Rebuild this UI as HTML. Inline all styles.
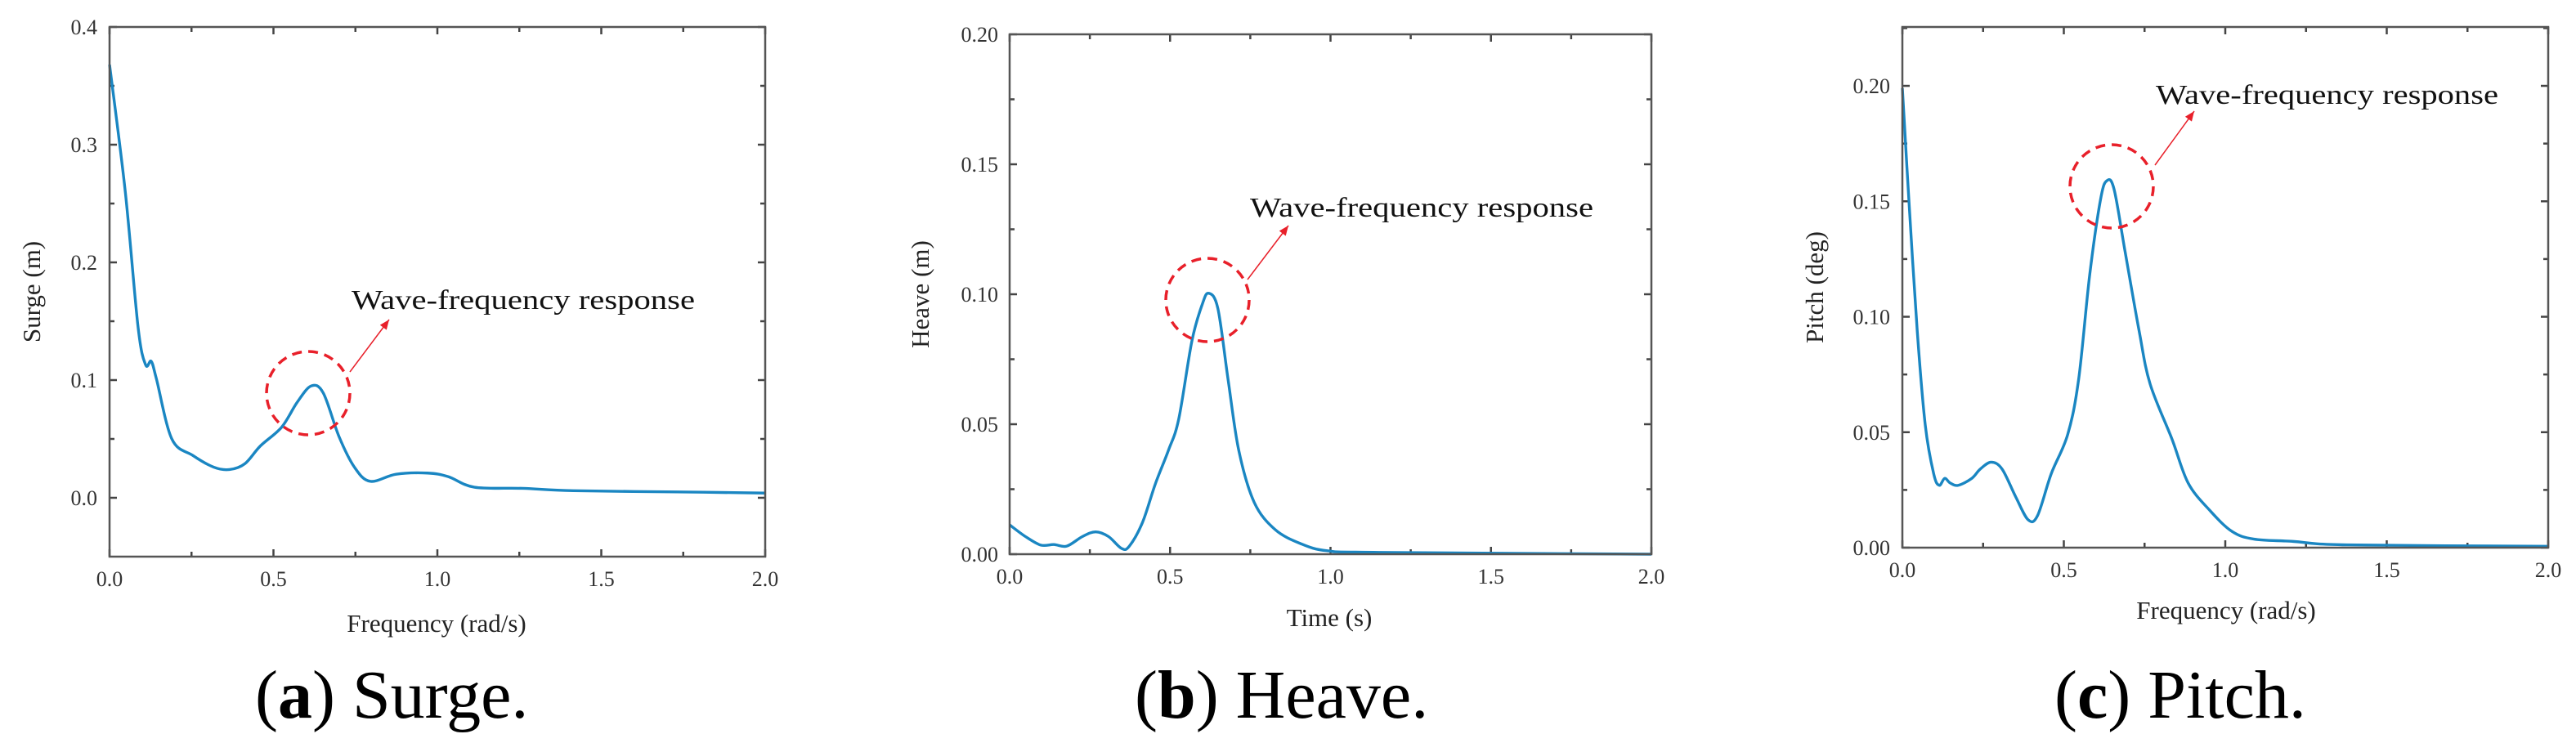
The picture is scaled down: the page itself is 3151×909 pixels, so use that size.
<!DOCTYPE html>
<html><head><meta charset="utf-8"><style>
html,body{margin:0;padding:0;background:#fff;}
svg{display:block;font-family:"Liberation Serif",serif;}
</style></head><body>
<svg id="fig" width="3151" height="909" viewBox="0 0 3151 909"></svg>
<script>
// ---- Data (a) Surge ----
const surgeFreq = [0,0.048,0.087,0.11,0.127,0.143,0.19,0.254,0.318,0.366,0.413,0.46,0.525,0.572,0.615,0.652,0.70,0.747,0.795,0.874,0.97,1.033,1.113,1.26,1.415,1.73,2.0];
const surgeVals = [0.368,0.26,0.145,0.113,0.116,0.101,0.050,0.036,0.026,0.024,0.029,0.044,0.060,0.081,0.095,0.089,0.052,0.026,0.014,0.020,0.021,0.018,0.009,0.008,0.006,0.005,0.004];
const surgeYTicks = ["0.0","0.1","0.2","0.3","0.4"];
// ---- Data (b) Heave ----
const heaveTime = [0,0.049,0.097,0.138,0.178,0.227,0.268,0.308,0.349,0.373,0.414,0.454,0.495,0.527,0.568,0.60,0.62,0.649,0.681,0.714,0.762,0.827,0.908,0.99,1.15,2.0];
const heaveVals = [0.0113,0.0068,0.0035,0.0037,0.0031,0.0068,0.0086,0.0068,0.0022,0.0031,0.0122,0.027,0.040,0.052,0.082,0.096,0.1004,0.0945,0.067,0.040,0.020,0.0095,0.004,0.0013,0.0007,0.0];
const heaveYTicks = ["0.00","0.05","0.10","0.15","0.20"];
// ---- Data (c) Pitch ----
const pitchFreq = [0,0.02,0.046,0.071,0.097,0.114,0.131,0.148,0.173,0.215,0.241,0.275,0.309,0.351,0.39,0.419,0.461,0.512,0.546,0.58,0.614,0.634,0.656,0.69,0.733,0.767,0.835,0.885,0.953,1.021,1.089,1.21,1.377,2.0];
const pitchVals = [0.199,0.151,0.094,0.053,0.032,0.027,0.030,0.028,0.027,0.030,0.034,0.037,0.034,0.022,0.012,0.014,0.032,0.049,0.073,0.118,0.151,0.159,0.155,0.128,0.094,0.071,0.047,0.028,0.016,0.007,0.0037,0.0027,0.0012,0.0006];
const pitchYTicks = ["0.00","0.05","0.10","0.15","0.20"];
const xTickLabels = ["0.0","0.5","1.0","1.5","2.0"];

const NS = "http://www.w3.org/2000/svg";
const svg = document.getElementById('fig');
function mk(tag, attrs, parent){
  const e = document.createElementNS(NS, tag);
  for (const k in attrs) e.setAttribute(k, attrs[k]);
  (parent||svg).appendChild(e);
  return e;
}

function drawChart(cfg){
  const g = mk('g', {});
  
  
  const L=cfg.L,R=cfg.R,T=cfg.T,B=cfg.B;
  const sx = v => L + (v - 0) / 2 * (R - L);
  const sy = v => B - (v - cfg.ymin) / (cfg.ymax - cfg.ymin) * (B - T);
  for (let i=0;i<=8;i++){
    const v=i*0.25, x=sx(v), len = i%2===0?9:6;
    const t1 = mk('line',{x1:x,y1:B,x2:x,y2:B-len,stroke:'#444','stroke-width':2.5},g);
    
    
    const t2 = mk('line',{x1:x,y1:T,x2:x,y2:T+len,stroke:'#444','stroke-width':2.5},g);
    
    
  }
  const nMinor = Math.round((cfg.ymax - cfg.ymin)/ (cfg.ystep/2));
  for (let i=0;i<=nMinor+1;i++){
    const v = cfg.ystart + i*cfg.ystep/2;
    if (v>cfg.ymax+1e-9) break;
    const y = sy(v), len = i%2===0?9:6;
    const t1 = mk('line',{x1:L,y1:y,x2:L+len,y2:y,stroke:'#444','stroke-width':2.5},g);
    
    
    const t2 = mk('line',{x1:R,y1:y,x2:R-len,y2:y,stroke:'#444','stroke-width':2.5},g);
    
    
  }
  xTickLabels.forEach((lab,i)=>{
    const t = mk('text',{x:sx(i*0.5),y:cfg.xLabY,'text-anchor':'middle','font-size':26,fill:'#333'},g);
    t.textContent = lab;
    
    
  });
  cfg.yTicks.forEach((lab,i)=>{
    const t = mk('text',{x:cfg.yLabX,y:sy(cfg.ystart+i*cfg.ystep)+9,'text-anchor':'end','font-size':26,fill:'#333'},g);
    t.textContent = lab;
    
    
  });
  const pts = cfg.xs.map((x,i)=>[sx(x), sy(cfg.ys[i])]);
  let d = `M${pts[0][0]},${pts[0][1]}`;
  for (let i=0;i<pts.length-1;i++){
    const p0=pts[Math.max(0,i-1)],p1=pts[i],p2=pts[i+1],p3=pts[Math.min(pts.length-1,i+2)];
    const c1=[p1[0]+(p2[0]-p0[0])/6,p1[1]+(p2[1]-p0[1])/6];
    const c2=[p2[0]-(p3[0]-p1[0])/6,p2[1]-(p3[1]-p1[1])/6];
    d += ` C${c1[0]},${c1[1]} ${c2[0]},${c2[1]} ${p2[0]},${p2[1]}`;
  }
  const line = mk('path',{d:d,fill:'none',stroke:'#1a86c2','stroke-width':3.4,'stroke-linejoin':'round'},g);
  
  
  const fr = mk('rect',{x:L,y:T,width:R-L,height:B-T,fill:'none',stroke:'#555','stroke-width':2.5},g);
  
  
  const xt = mk('text',{x:cfg.xTitleX,y:cfg.xTitleY,'text-anchor':'middle','font-size':31,fill:'#222'},g);
  xt.textContent = cfg.xTitle;
  
  
  const yt = mk('text',{x:0,y:0,'text-anchor':'middle','font-size':31,fill:'#222',transform:`translate(${cfg.yTitleX},${(T+B)/2}) rotate(-90)`},g);
  yt.textContent = cfg.yTitle;
  
  
  const c = mk('ellipse',{cx:cfg.circ[0],cy:cfg.circ[1],rx:51,ry:51,fill:'none',stroke:'#e8202a','stroke-width':3.5,'stroke-dasharray':'12 8'},g);
  
  
  const a = cfg.arrow;
  const al = mk('line',{x1:a[0],y1:a[1],x2:a[2],y2:a[3],stroke:'#e8202a','stroke-width':1.5},g);
  
  
  const ang = Math.atan2(a[3]-a[1], a[2]-a[0]);
  const hx=a[2],hy=a[3],hl=12,hw=5;
  const bx=hx-hl*Math.cos(ang),by=hy-hl*Math.sin(ang);
  const ah = mk('polygon',{points:`${hx},${hy} ${bx-hw*Math.sin(ang)},${by+hw*Math.cos(ang)} ${bx+hw*Math.sin(ang)},${by-hw*Math.cos(ang)}`,fill:'#e8202a'},g);
  
  
  const an = mk('text',{x:cfg.annX,y:cfg.annY,'font-size':34,fill:'#111',textLength:cfg.annW,lengthAdjust:'spacingAndGlyphs'},g);
  an.textContent = 'Wave-frequency response';
  
  
  const cap = mk('text',{x:cfg.capX,y:878,'font-size':84,fill:'#000'},g);
  cap.innerHTML = `(<tspan font-weight="bold">${cfg.capLetter}</tspan>) ${cfg.capText}`;
  
  
}

drawChart({name:'surge-chart',L:134,R:936,T:33,B:681,ymin:-0.05,ymax:0.4,ystart:0,ystep:0.1,
  yTicks:surgeYTicks,xs:surgeFreq,ys:surgeVals,xLabY:717,yLabX:119,xTitle:'Frequency (rad/s)',xTitleX:534,xTitleY:773,
  yTitle:'Surge (m)',yTitleX:49,circ:[377,481],arrow:[428,455,476,391],annX:430,annY:378,annW:420,capX:312,capLetter:'a',capText:'Surge.'});
drawChart({name:'heave-chart',L:1235,R:2020,T:42,B:678,ymin:0,ymax:0.2,ystart:0,ystep:0.05,
  yTicks:heaveYTicks,xs:heaveTime,ys:heaveVals,xLabY:714,yLabX:1221,xTitle:'Time (s)',xTitleX:1626,xTitleY:766,
  yTitle:'Heave (m)',yTitleX:1136,circ:[1477,367],arrow:[1526,342,1576,276],annX:1529,annY:265,annW:420,capX:1388,capLetter:'b',capText:'Heave.'});
drawChart({name:'pitch-chart',L:2327,R:3117,T:33,B:670,ymin:0,ymax:0.2255,ystart:0,ystep:0.05,
  yTicks:pitchYTicks,xs:pitchFreq,ys:pitchVals,xLabY:706,yLabX:2312,xTitle:'Frequency (rad/s)',xTitleX:2723,xTitleY:757,
  yTitle:'Pitch (deg)',yTitleX:2230,circ:[2583,228],arrow:[2636,202,2684,136],annX:2637,annY:127,annW:419,capX:2513,capLetter:'c',capText:'Pitch.'});
</script>
</body></html>
